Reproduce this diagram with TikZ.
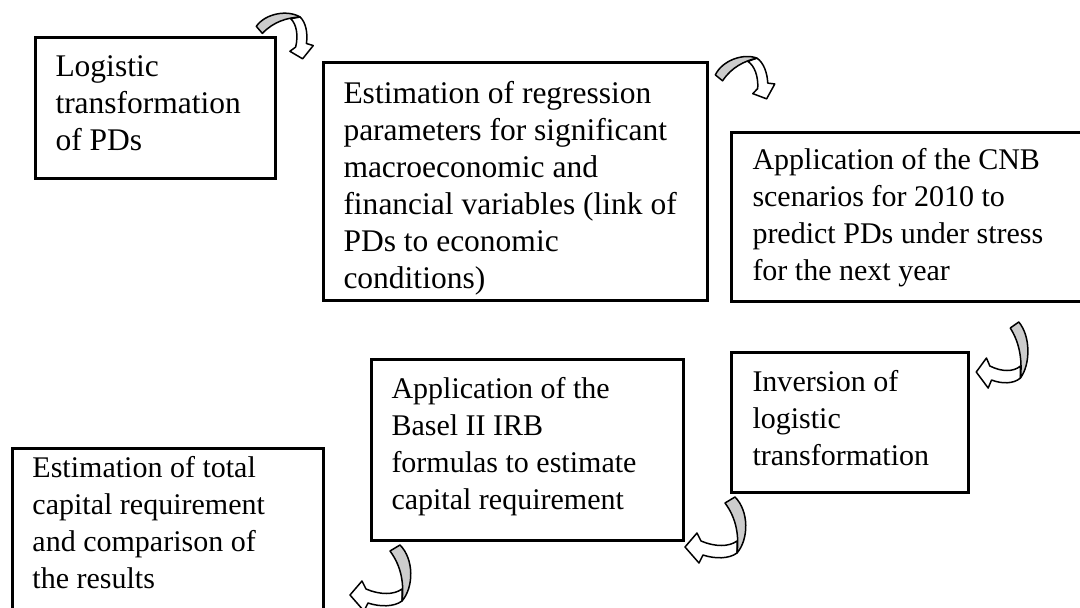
\documentclass[tikz,border=0pt]{standalone}
\usepackage{fontspec}
\setmainfont{Liberation Serif}
\newcommand{\stack}[2][12]{\vtop{\fontsize{#1}{14.8}\selectfont\halign{##\hfil\cr#2\crcr}}}
\begin{document}
\begin{tikzpicture}[x=0.4pt,y=-0.4pt,
  stepbox/.style={draw,line width=1.2pt},
  boxtext/.style={anchor=base west,inner sep=0pt},
  graypart/.style={fill=black!20,draw=black,line width=0.6pt,line join=round},
  whitepart/.style={fill=white,draw=black,line width=0.6pt,line join=round}]
\useasboundingbox (0,0) rectangle (1080,607);
\newcommand{\curvarrow}[4]{%
  \begin{scope}[shift={(#1)},rotate=#2,xscale=#3,yscale=#4]
    \path[whitepart] (17,26) .. controls (9,32) and (-5,32) .. (-17,28) -- (-21,36) -- (-35,20) -- (-23,6) -- (-19,14) .. controls (-5,20) and (9,20) .. (17,14) -- cycle;
    \path[graypart] (5,-24) -- (15,-30) .. controls (29,-16) and (29,12) .. (17,26) .. controls (19,10) and (17,-8) .. (5,-24) -- cycle;
  \end{scope}}
% boxes
\draw[stepbox] (35,37) rectangle (275,178);
\node[boxtext] (t1) at (55,76) {\stack[12.6]{Logistic\cr transformation\cr of PDs}};
\draw[stepbox] (323,62) rectangle (707,300);
\node[boxtext] (t2) at (343,103) {\stack[12.6]{Estimation of regression\cr parameters for significant\cr macroeconomic and\cr financial variables (link of\cr PDs to economic\cr conditions)}};
\draw[stepbox] (731,132) rectangle (1095,301);
\node[boxtext] (t3) at (752,169) {\stack{Application of the CNB\cr scenarios for 2010 to\cr predict PDs under stress\cr for the next year}};
\draw[stepbox] (731,352) rectangle (968,492);
\node[boxtext] (t4) at (752,391) {\stack{Inversion of\cr logistic\cr transformation}};
\draw[stepbox] (371,359) rectangle (683,540);
\node[boxtext] (t5) at (391,398) {\stack{Application of the\cr Basel II IRB\cr formulas to estimate\cr capital requirement}};
\draw[stepbox] (12,448) rectangle (323,620);
\node[boxtext] (t6) at (32,477) {\stack{Estimation of total\cr capital requirement\cr and comparison of\cr the results}};
% curved arrows
\curvarrow{282,34}{100}{0.8}{0.8}
\curvarrow{742,78}{110}{0.8}{0.8}
\curvarrow{1006,352}{0}{0.85}{1}
\curvarrow{720,527}{0}{1}{1}
\curvarrow{385,575}{0}{1}{1}
\end{tikzpicture}
\end{document}
